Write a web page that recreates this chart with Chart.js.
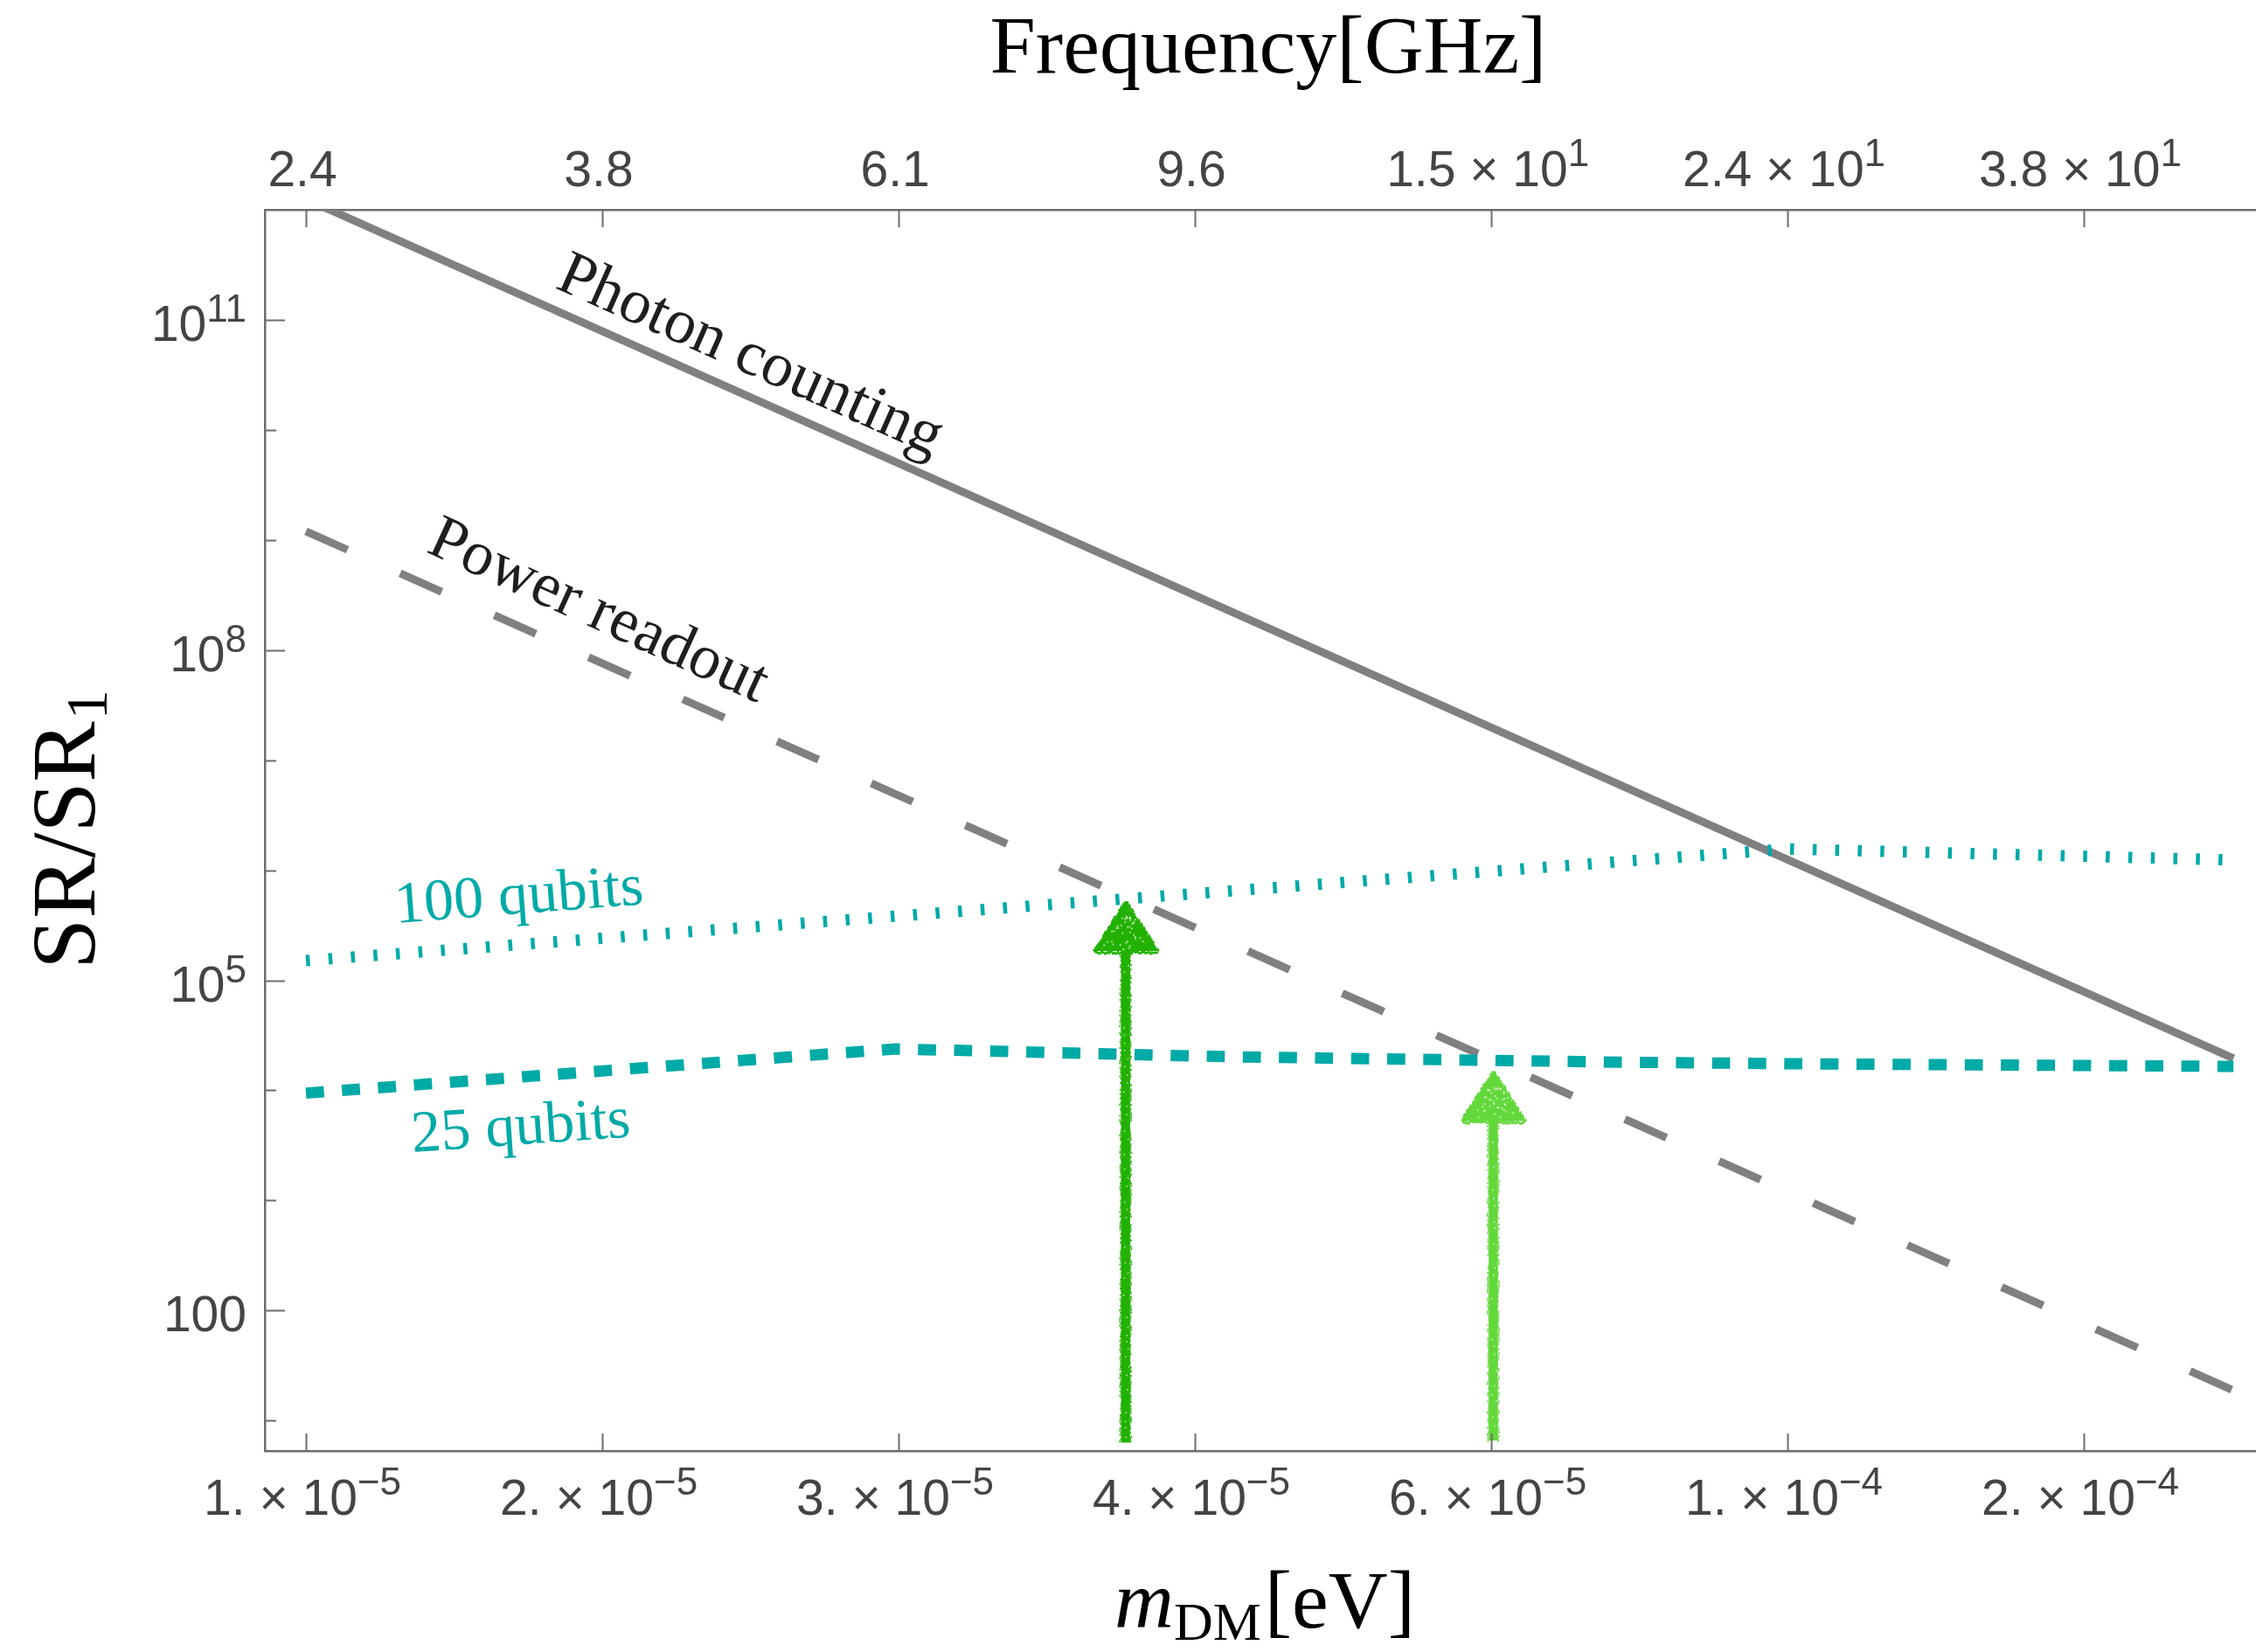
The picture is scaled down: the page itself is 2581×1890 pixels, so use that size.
<!DOCTYPE html>
<html>
<head>
<meta charset="utf-8">
<title>SR/SR1 versus dark-matter mass</title>
<script src="https://cdn.jsdelivr.net/npm/chart.js@4.4.1/dist/chart.umd.min.js"></script>
<style>
  html, body { margin: 0; padding: 0; background: #ffffff; }
  canvas { display: block; }
</style>
</head>
<body>
<canvas id="chart" width="2581" height="1890"></canvas>
<script>
// ---- Data: signal-rate ratio SR/SR1 against dark-matter mass m_DM [eV] ----
const lineMass = [1e-5, 2e-4];
const photonCounting = [1.25e12, 1.95e4];
const powerReadout = [1.2e9, 18.8];

const qubits100Mass = [1e-5, 1e-4, 2e-4];
const qubits100 = [1.51e5, 1.56e6, 1.24e6];

const qubits25Mass = [1e-5, 2.5e-5, 4.21e-5, 7.81e-5, 1.04e-4, 2e-4];
const qubits25 = [9.44e3, 2.38e4, 2.02e4, 1.80e4, 1.74e4, 1.65e4];

// Vertical arrows: mass, foot value, tip value
const arrowMass = [3.575e-5, 6.33e-5];
const arrowFoot = [6.3, 6.6];
const arrowTip = [5.13e5, 1.47e4];

// ---- Axis ticks ----
const massTicks = [1e-5, 1.585e-5, 2.512e-5, 3.981e-5, 6.310e-5, 1e-4, 1.585e-4];
const massTickLabels = ['1. × 10^−5', '2. × 10^−5', '3. × 10^−5', '4. × 10^−5',
                        '6. × 10^−5', '1. × 10^−4', '2. × 10^−4'];
const freqTicks = [2.418, 3.832, 6.074, 9.626, 15.26, 24.18, 38.32];
const freqTickLabels = ['2.4', '3.8', '6.1', '9.6', '1.5 × 10^1', '2.4 × 10^1', '3.8 × 10^1'];
const srMajorTicks = [1e2, 1e5, 1e8, 1e11];
const srMajorLabels = ['100', '10^5', '10^8', '10^11'];
const srMinorTicks = [1e1, 1e3, 1e4, 1e6, 1e7, 1e9, 1e10];

// ---- Ranges ----
const GHZ_PER_EV = 2.418e5;
const massRange = [9.381e-6, 2.0712e-4];
const srRange = [5.3, 1e12];

// ---- Styling ----
const GRAY = '#808080';
const TEAL = '#00aaa7';
const AXIS = '#6d6d6d';
const TICK_TEXT = '#444444';
const arrowColors = ['#22b100', '#62d83a'];
const SERIF = '"Liberation Serif", "DejaVu Serif", serif';
const SANS = '"Liberation Sans", Arial, sans-serif';

const curveLabels = [
  { text: 'Photon counting', m: 1.973e-5, v: 3.37e10, angle: 24, color: '#1e1e1e', size: 72 },
  { text: 'Power readout',   m: 1.558e-5, v: 1.61e8,  angle: 24.5, color: '#1e1e1e', size: 72 },
  { text: '100 qubits',      m: 1.395e-5, v: 4.05e5,  angle: -4.4, color: TEAL, size: 68 },
  { text: '25 qubits',       m: 1.399e-5, v: 3.24e3,  angle: -4.0, color: TEAL, size: 68 }
];

const toPoints = (xs, ys) => xs.map((x, i) => ({ x: x, y: ys[i] }));

// Deterministic hash in [0, 1) for the chalk-stroke texture
function hash01(n) {
  const s = Math.sin(n * 12.9898 + 78.233) * 43758.5453;
  return s - Math.floor(s);
}

// Draws "base^sup" as base text with a raised exponent
function drawSupLabel(ctx, label, x, baseline, align, baseFont, supFont, rise) {
  const parts = label.split('^');
  const base = parts[0];
  const sup = parts[1];
  ctx.font = baseFont;
  const wb = ctx.measureText(base).width;
  let ws = 0;
  if (sup) { ctx.font = supFont; ws = ctx.measureText(sup).width; }
  const w = wb + ws;
  const x0 = align === 'center' ? x - w / 2 : (align === 'right' ? x - w : x);
  ctx.textAlign = 'left';
  ctx.textBaseline = 'alphabetic';
  ctx.font = baseFont;
  ctx.fillText(base, x0, baseline);
  if (sup) { ctx.font = supFont; ctx.fillText(sup, x0 + wb, baseline - rise); }
}

// Chalk-like arrow: shaft from foot up to the head, triangular head at the tip
function drawChalkArrow(ctx, px, pFoot, pTip, color, seed) {
  const headH = 56, headW = 36, shaftW = 10;
  ctx.fillStyle = color;
  ctx.strokeStyle = color;
  ctx.lineWidth = shaftW;
  ctx.lineCap = 'butt';
  ctx.beginPath();
  ctx.moveTo(px, pFoot);
  ctx.lineTo(px, pTip + headH - 2);
  ctx.stroke();
  ctx.beginPath();
  ctx.moveTo(px, pTip);
  ctx.lineTo(px + headW, pTip + headH);
  ctx.lineTo(px - headW, pTip + headH);
  ctx.closePath();
  ctx.fill();

  // ragged edges along the shaft
  let k = seed * 1000;
  for (let yy = pTip + headH; yy < pFoot; yy += 2.5) {
    const r1 = hash01(k++), r2 = hash01(k++);
    ctx.fillRect(px - shaftW / 2 - r1 * 2.5, yy, 2, 2);
    ctx.fillRect(px + shaftW / 2 + r2 * 2.5 - 2, yy, 2, 2);
  }
  // ragged edges along the head outline
  for (let t = 0; t <= 1; t += 0.02) {
    const r1 = hash01(k++), r2 = hash01(k++), r3 = hash01(k++);
    const ey = pTip + t * headH;
    ctx.fillRect(px - t * headW - r1 * 3, ey - 1, 2.5, 2.5);
    ctx.fillRect(px + t * headW + r2 * 3 - 2, ey - 1, 2.5, 2.5);
    ctx.fillRect(px - headW + t * 2 * headW, pTip + headH - 1 + r3 * 3, 2.5, 2.5);
  }
  // light speckles inside the strokes
  ctx.fillStyle = 'rgba(255,255,255,0.55)';
  for (let yy = pTip + headH + 4; yy < pFoot - 4; yy += 9) {
    const r1 = hash01(k++), r2 = hash01(k++);
    if (r2 < 0.6) ctx.fillRect(px - 3 + r1 * 6, yy + r2 * 6, 1.8, 1.8);
  }
  for (let n = 0; n < 40; n++) {
    const t = 0.25 + 0.7 * hash01(k++);
    const s = hash01(k++) * 2 - 1;
    ctx.fillRect(px + s * t * headW * 0.85, pTip + t * headH, 2, 2);
  }
}

const decorations = {
  id: 'decorations',
  afterDatasetsDraw(chart) {
    const { ctx, chartArea: a, scales } = chart;
    const x = scales.x, y = scales.y;

    // Arrows
    ctx.save();
    ctx.beginPath();
    ctx.rect(a.left, a.top, a.right - a.left, a.bottom - a.top);
    ctx.clip();
    arrowMass.forEach((m, i) => {
      drawChalkArrow(ctx, x.getPixelForValue(m), y.getPixelForValue(arrowFoot[i]),
                     y.getPixelForValue(arrowTip[i]), arrowColors[i], i + 1);
    });
    ctx.restore();

    // Curve labels
    curveLabels.forEach(l => {
      const px = x.getPixelForValue(l.m);
      const py = y.getPixelForValue(l.v);
      ctx.save();
      ctx.translate(px, py);
      ctx.rotate(l.angle * Math.PI / 180);
      ctx.font = l.size + 'px ' + SERIF;
      ctx.fillStyle = l.color;
      ctx.textAlign = 'center';
      ctx.textBaseline = 'alphabetic';
      ctx.fillText(l.text, 0, 0);
      ctx.restore();
    });
  },
  afterDraw(chart) {
    const { ctx, chartArea: a, scales } = chart;
    const x = scales.x, xTop = scales.xTop, y = scales.y;
    ctx.save();

    // Tick marks (inside the frame)
    ctx.strokeStyle = AXIS;
    ctx.lineWidth = 2;
    ctx.beginPath();
    massTicks.forEach(m => {
      const px = Math.round(x.getPixelForValue(m)) + 0.5;
      ctx.moveTo(px, a.bottom); ctx.lineTo(px, a.bottom - 20);
    });
    freqTicks.forEach(f => {
      const px = Math.round(xTop.getPixelForValue(f)) + 0.5;
      ctx.moveTo(px, a.top); ctx.lineTo(px, a.top + 20);
    });
    srMajorTicks.forEach(v => {
      const py = Math.round(y.getPixelForValue(v)) + 0.5;
      ctx.moveTo(a.left, py); ctx.lineTo(a.left + 23, py);
    });
    srMinorTicks.forEach(v => {
      const py = Math.round(y.getPixelForValue(v)) + 0.5;
      ctx.moveTo(a.left, py); ctx.lineTo(a.left + 13, py);
    });
    ctx.stroke();

    // Tick labels
    ctx.fillStyle = TICK_TEXT;
    const baseFont = '57px ' + SANS;
    const supFont = '44px ' + SANS;
    massTicks.forEach((m, i) => {
      drawSupLabel(ctx, massTickLabels[i], x.getPixelForValue(m) - 4, a.bottom + 73,
                   'center', baseFont, supFont, 23);
    });
    freqTicks.forEach((f, i) => {
      drawSupLabel(ctx, freqTickLabels[i], xTop.getPixelForValue(f) - 4, a.top - 27,
                   'center', baseFont, supFont, 23);
    });
    srMajorTicks.forEach((v, i) => {
      drawSupLabel(ctx, srMajorLabels[i], a.left - 21, y.getPixelForValue(v) + 24,
                   'right', baseFont, supFont, 22);
    });

    // Axis titles
    ctx.fillStyle = '#000000';
    ctx.textBaseline = 'alphabetic';

    // Top: Frequency[GHz]
    ctx.font = '94px ' + SERIF;
    ctx.textAlign = 'center';
    ctx.fillText('Frequency[GHz]', 1451, a.top - 157);

    // Bottom: m_DM[eV]
    const mFont = 'italic 94px ' + SERIF;
    const subFont = '62px ' + SERIF;
    const brFont = '94px ' + SERIF;
    ctx.font = mFont; const wm = ctx.measureText('m').width;
    ctx.font = subFont; const wd = ctx.measureText('DM').width;
    ctx.font = brFont; const we = ctx.measureText('[eV]').width;
    let bx = 1447 - (wm + wd + 4 + we) / 2;
    const bBase = a.bottom + 202;
    ctx.textAlign = 'left';
    ctx.font = mFont; ctx.fillText('m', bx, bBase); bx += wm;
    ctx.font = subFont; ctx.fillText('DM', bx, bBase + 14); bx += wd + 4;
    ctx.font = brFont; ctx.fillText('[eV]', bx, bBase);

    // Left: SR/SR_1
    ctx.save();
    ctx.translate(a.left - 195, (a.top + a.bottom) / 2);
    ctx.rotate(-Math.PI / 2);
    const lFont = '104px ' + SERIF;
    const l1Font = '68px ' + SERIF;
    ctx.font = lFont; const wl = ctx.measureText('SR/SR').width;
    ctx.font = l1Font; const w1 = ctx.measureText('1').width;
    const lx = -(wl + w1) / 2;
    ctx.font = lFont; ctx.fillText('SR/SR', lx, 0);
    ctx.font = l1Font; ctx.fillText('1', lx + wl + 2, 14);
    ctx.restore();

    ctx.restore();
  }
};

const lineStyle = {
  pointRadius: 0,
  pointHoverRadius: 0,
  fill: false,
  tension: 0,
  borderCapStyle: 'butt',
  borderJoinStyle: 'miter'
};

new Chart(document.getElementById('chart'), {
  type: 'line',
  data: {
    datasets: [
      Object.assign({ label: '25 qubits', data: toPoints(qubits25Mass, qubits25),
        borderColor: TEAL, borderWidth: 13, borderDash: [20.7, 20.6] }, lineStyle),
      Object.assign({ label: '100 qubits', data: toPoints(qubits100Mass, qubits100),
        borderColor: TEAL, borderWidth: 13, borderDash: [4.5, 21.3] }, lineStyle),
      Object.assign({ label: 'Power readout', data: toPoints(lineMass, powerReadout),
        borderColor: GRAY, borderWidth: 9, borderDash: [52, 66] }, lineStyle),
      Object.assign({ label: 'Photon counting', data: toPoints(lineMass, photonCounting),
        borderColor: GRAY, borderWidth: 9 }, lineStyle)
    ]
  },
  options: {
    responsive: false,
    animation: false,
    devicePixelRatio: 1,
    events: [],
    layout: { padding: { left: 303, top: 240, right: 0, bottom: 230 } },
    plugins: { legend: { display: false }, tooltip: { enabled: false } },
    scales: {
      x: {
        type: 'logarithmic', position: 'bottom',
        min: massRange[0], max: massRange[1],
        ticks: { display: false }, grid: { display: false, drawTicks: false },
        border: { display: true, color: AXIS, width: 2.5 },
        afterFit: s => { s.height = 0; }
      },
      xTop: {
        type: 'logarithmic', position: 'top',
        min: massRange[0] * GHZ_PER_EV, max: massRange[1] * GHZ_PER_EV,
        ticks: { display: false }, grid: { display: false, drawTicks: false },
        border: { display: true, color: AXIS, width: 2.5 },
        afterFit: s => { s.height = 0; }
      },
      y: {
        type: 'logarithmic', position: 'left',
        min: srRange[0], max: srRange[1],
        ticks: { display: false }, grid: { display: false, drawTicks: false },
        border: { display: true, color: AXIS, width: 2.5 },
        afterFit: s => { s.width = 0; }
      }
    }
  },
  plugins: [decorations]
});
</script>
</body>
</html>
